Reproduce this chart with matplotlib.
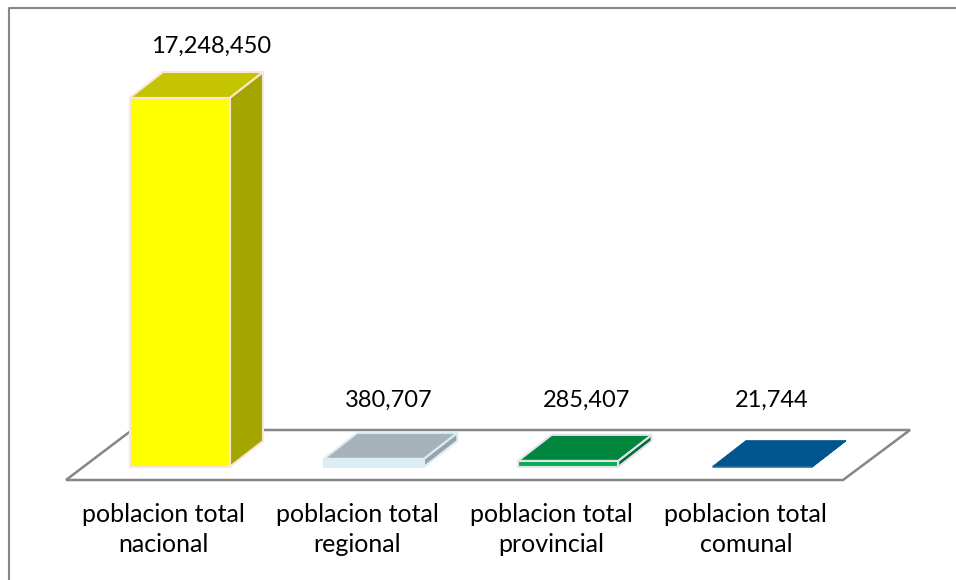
import matplotlib
matplotlib.use("Agg")
import matplotlib.pyplot as plt
from matplotlib.patches import Polygon
from matplotlib.lines import Line2D
from matplotlib.transforms import Affine2D

categories = ["poblacion total\nnacional", "poblacion total\nregional",
              "poblacion total\nprovincial", "poblacion total\ncomunal"]
values = [17248450, 380707, 285407, 21744]
value_labels = ["17,248,450", "380,707", "285,407", "21,744"]
front_colors = ["#FFFF00", "#DAEEF3", "#00B050", "#00558F"]
top_colors = ["#C4C400", "#A6B3B8", "#00863D", "#00558F"]
side_colors = ["#A5A500", "#97A3A8", "#006E32", "#00558F"]
edge_colors = ["#FBE5D6", "#DAEEF3", "#E4E2EA", "#00558F"]

# label placement relative to the bar's top-centre, in pixels
label_dx = [32, 15, 18, 9]
label_dy = [52, 59, 61, 66.5]

W, H = 956, 580
plt.rcParams["font.family"] = ["Lato", "DejaVu Sans"]
fig = plt.figure(figsize=(W / 100, H / 100), dpi=100, facecolor="white")
ax = fig.add_axes([0, 0, 1, 1])
ax.axis("off")

PX_PER_UNIT = 369 / 17248450
SPACING = 194.3
X0 = 179.5
BASE = 467
PT = 0.72  # points per pixel
ax.set_xlim(-X0 / SPACING, (W - X0) / SPACING)
ax.set_ylim(-(H - BASE) / PX_PER_UNIT, BASE / PX_PER_UNIT)

px = Affine2D().scale(1, -1).translate(0, H)  # top-left pixel coordinates
GRAY = "#868686"

fig.add_artist(Line2D([9, 9, W], [H, 7.5, 7.5], transform=px, color=GRAY, lw=1.5))

ax.add_patch(Polygon([(66, 480), (843, 480), (910, 430), (132, 430)], closed=True,
                     transform=px, facecolor="white", edgecolor=GRAY, lw=1.8, zorder=1))

half = 50 / SPACING
dx = 33.5 / SPACING
dy = 26 / PX_PER_UNIT

for i, v in enumerate(values):
    ec = edge_colors[i]
    lw = 1.5 if i != 3 else 0.5
    l, r = i - half, i + half
    ax.add_patch(Polygon([(r, 0), (r + dx, dy), (r + dx, v + dy), (r, v)],
                         facecolor=side_colors[i], edgecolor=ec, lw=lw, zorder=3))
    ax.add_patch(Polygon([(l, v), (r, v), (r + dx, v + dy), (l + dx, v + dy)],
                         facecolor=top_colors[i], edgecolor=ec, lw=lw, zorder=3))
    ax.add_patch(Polygon([(l, 0), (r, 0), (r, v), (l, v)],
                         facecolor=front_colors[i], edgecolor=ec, lw=lw, zorder=4))
    ax.annotate(value_labels[i], xy=(i, v), xytext=(label_dx[i] * PT, label_dy[i] * PT),
                textcoords="offset points", ha="center", va="center",
                fontsize=17, color="black", zorder=5)
    ax.annotate(categories[i], xy=(i, 0), xytext=(-16.5 * PT, -62.5 * PT),
                textcoords="offset points", ha="center", va="center",
                fontsize=18, color="black", linespacing=1.41, zorder=5)

fig.savefig("out.png", dpi=100, facecolor="white")
